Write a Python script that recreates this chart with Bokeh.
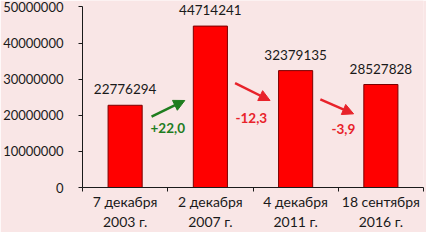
from bokeh.plotting import figure
from bokeh.models import Range1d, FixedTicker, NumeralTickFormatter, Arrow, NormalHead, Label, LabelSet, ColumnDataSource
from bokeh.core.properties import value
from bokeh.embed import file_html
from bokeh.resources import INLINE

# data
category_dates = ["7 декабря", "2 декабря", "4 декабря", "18 сентября"]
category_years = ["2003 г.", "2007 г.", "2011 г.", "2016 г."]
votes = [22776294, 44714241, 32379135, 28527828]
value_labels = [str(v) for v in votes]
changes = ["+22,0", "-12,3", "-3,9"]
change_colors = ["#1f7d1f", "#e8222a", "#e8222a"]
y_ticks = [0, 10000000, 20000000, 30000000, 40000000, 50000000]

FONT = "Lato"
BG = "#f9e6e6"
TXT = "#1a1a1a"

xs = [i + 0.5 for i in range(len(votes))]
src = ColumnDataSource(dict(x=xs, top=votes, lab=value_labels))

p = figure(width=426, height=232, output_backend="svg", toolbar_location=None,
           x_range=Range1d(0, 4), y_range=Range1d(0, 51800000),
           min_border_left=0, min_border_right=3, min_border_top=0, min_border_bottom=0)
p.background_fill_color = BG
p.border_fill_color = BG
p.outline_line_color = None
p.xgrid.visible = False
p.ygrid.visible = False

p.vbar(x="x", top="top", width=0.4, bottom=0, source=src,
       fill_color="#ff0000", line_color="#7a0000", line_width=1)

p.add_layout(LabelSet(x="x", y="top", text="lab", source=src, text_align="center",
                      text_baseline="bottom", y_offset=11, text_font=value(FONT),
                      text_font_size="13.5px", text_color=TXT))

# x axis: category labels at centers, ticks at category boundaries
xa = p.xaxis[0]
xa.ticker = FixedTicker(ticks=xs, minor_ticks=[0, 1, 2, 3, 4])
xa.major_label_overrides = {x: d + "\n" + yr for x, d, yr in zip(xs, category_dates, category_years)}
xa.major_tick_line_color = None
xa.major_tick_in = 0
xa.major_tick_out = 0
xa.minor_tick_line_color = TXT
xa.minor_tick_in = 0
xa.minor_tick_out = 4
xa.axis_line_color = TXT
xa.major_label_text_font = FONT
xa.major_label_text_font_size = "14px"
xa.major_label_text_color = TXT
xa.major_label_standoff = 1

ya = p.yaxis[0]
ya.ticker = FixedTicker(ticks=y_ticks, minor_ticks=[])
ya.formatter = NumeralTickFormatter(format="0")
ya.bounds = (0, 50000000)
ya.major_tick_in = 0
ya.major_tick_out = 4
ya.major_tick_line_color = TXT
ya.axis_line_color = TXT
ya.major_label_text_font = FONT
ya.major_label_text_font_size = "13px"
ya.major_label_text_color = TXT
ya.major_label_standoff = 15

# change arrows and labels
arrows = [((0.81, 19.6e6), (1.2, 24.1e6)),
          ((1.79, 28.9e6), (2.2, 24.1e6)),
          ((2.79, 24.4e6), (3.18, 20.4e6))]
label_pos = [(1.0, 16.6e6), (1.98, 19.3e6), (3.06, 16.3e6)]
for (s, e), col, txt, (lx, ly) in zip(arrows, change_colors, changes, label_pos):
    p.add_layout(Arrow(end=NormalHead(size=11, fill_color=col, line_color=col),
                       x_start=s[0], y_start=s[1], x_end=e[0], y_end=e[1],
                       line_color=col, line_width=2.5))
    p.add_layout(Label(x=lx, y=ly, text=txt, text_align="center", text_baseline="middle",
                       text_font=FONT, text_font_size="13.5px", text_font_style="bold",
                       text_color=col))

open("out.html", "w").write(file_html(p, INLINE))
